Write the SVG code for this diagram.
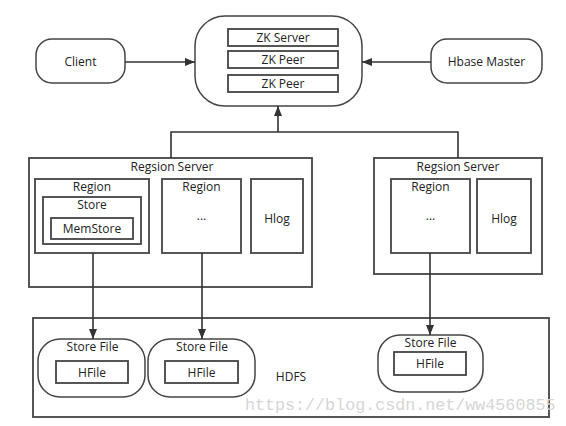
<svg xmlns="http://www.w3.org/2000/svg" width="566" height="426" viewBox="0 0 566 426">
<defs>
<style>
.box{fill:#fff;stroke:#444;stroke-width:1.8}
.rnd{fill:#fff;stroke:#444;stroke-width:1.5}
.t{font-family:"Open Sans","Noto Sans",sans-serif;font-size:12px;fill:#222;text-anchor:middle}
.c{fill:none;stroke:#333;stroke-width:1.6}
.wm{font-family:"Liberation Mono",monospace;font-size:16.7px;fill:#d6d6d6}
</style>
<marker id="ah" markerWidth="10" markerHeight="10" viewBox="0 0 10 10" refX="10" refY="5" orient="auto" markerUnits="userSpaceOnUse">
<path d="M0,1 L10,5 L0,9 Z" fill="#333"/>
</marker>
</defs>
<rect width="566" height="426" fill="#fff"/>

<g id="client">
<rect class="rnd" x="36" y="39" width="89" height="44" rx="16"/>
<text class="t" x="80.5" y="66">Client</text>
</g>

<g id="hbase-master">
<rect class="rnd" x="431" y="39" width="111" height="44" rx="16"/>
<text class="t" x="486.5" y="66">Hbase Master</text>
</g>

<g id="zk">
<rect class="rnd" x="195" y="16" width="167" height="90" rx="30"/>
<rect class="box" x="228" y="29" width="110" height="17"/>
<text class="t" x="283" y="42">ZK Server</text>
<rect class="box" x="228" y="51" width="110" height="17"/>
<text class="t" x="283" y="64">ZK Peer</text>
<rect class="box" x="228" y="75" width="110" height="17"/>
<text class="t" x="283" y="88">ZK Peer</text>
</g>

<g id="region-server-1">
<rect class="box" x="29" y="158" width="283" height="129"/>
<text class="t" x="172" y="171">Regsion Server</text>
<rect class="box" x="35" y="179" width="114" height="74"/>
<text class="t" x="92" y="191">Region</text>
<rect class="box" x="43" y="197" width="98" height="47"/>
<text class="t" x="92" y="209">Store</text>
<rect class="box" x="51" y="218" width="82" height="21"/>
<text class="t" x="92" y="233">MemStore</text>
<rect class="box" x="162" y="179" width="79" height="74"/>
<text class="t" x="201.5" y="191">Region</text>
<text class="t" x="201.5" y="220">...</text>
<rect class="box" x="251" y="179" width="52" height="74"/>
<text class="t" x="277" y="223">Hlog</text>
</g>

<g id="region-server-2">
<rect class="box" x="374" y="158" width="168" height="116"/>
<text class="t" x="458" y="171">Regsion Server</text>
<rect class="box" x="391" y="179" width="79" height="74"/>
<text class="t" x="430.5" y="191">Region</text>
<text class="t" x="430.5" y="220">...</text>
<rect class="box" x="477" y="179" width="54" height="74"/>
<text class="t" x="504" y="223">Hlog</text>
</g>

<g id="hdfs">
<rect class="box" x="33" y="318" width="516" height="99"/>
<text class="t" x="291" y="381">HDFS</text>
</g>

<g id="store-file-1">
<rect class="rnd" x="38" y="339" width="107" height="58" rx="22"/>
<text class="t" x="92.5" y="351">Store File</text>
<rect class="box" x="56" y="361" width="72" height="22"/>
<text class="t" x="92" y="377">HFile</text>
</g>

<g id="store-file-2">
<rect class="rnd" x="148" y="339" width="107" height="58" rx="22"/>
<text class="t" x="202" y="351">Store File</text>
<rect class="box" x="165" y="361" width="73" height="22"/>
<text class="t" x="201.5" y="377">HFile</text>
</g>

<g id="store-file-3">
<rect class="rnd" x="378" y="335" width="105" height="57" rx="22"/>
<text class="t" x="430.5" y="347">Store File</text>
<rect class="box" x="394" y="352" width="72" height="23"/>
<text class="t" x="430" y="368">HFile</text>
</g>

<g id="connectors">
<path class="c" d="M125,62 H195" marker-end="url(#ah)"/>
<path class="c" d="M431,62 H362" marker-end="url(#ah)"/>
<path class="c" d="M171,158 V132 H458 V158"/>
<path class="c" d="M278,132 V106" marker-end="url(#ah)"/>
<path class="c" d="M93,253 V339" marker-end="url(#ah)"/>
<path class="c" d="M202,253 V339" marker-end="url(#ah)"/>
<path class="c" d="M430,253 V335" marker-end="url(#ah)"/>
</g>

<text class="wm" x="245" y="410">https://blog.csdn.net/ww4560855</text>
</svg>
